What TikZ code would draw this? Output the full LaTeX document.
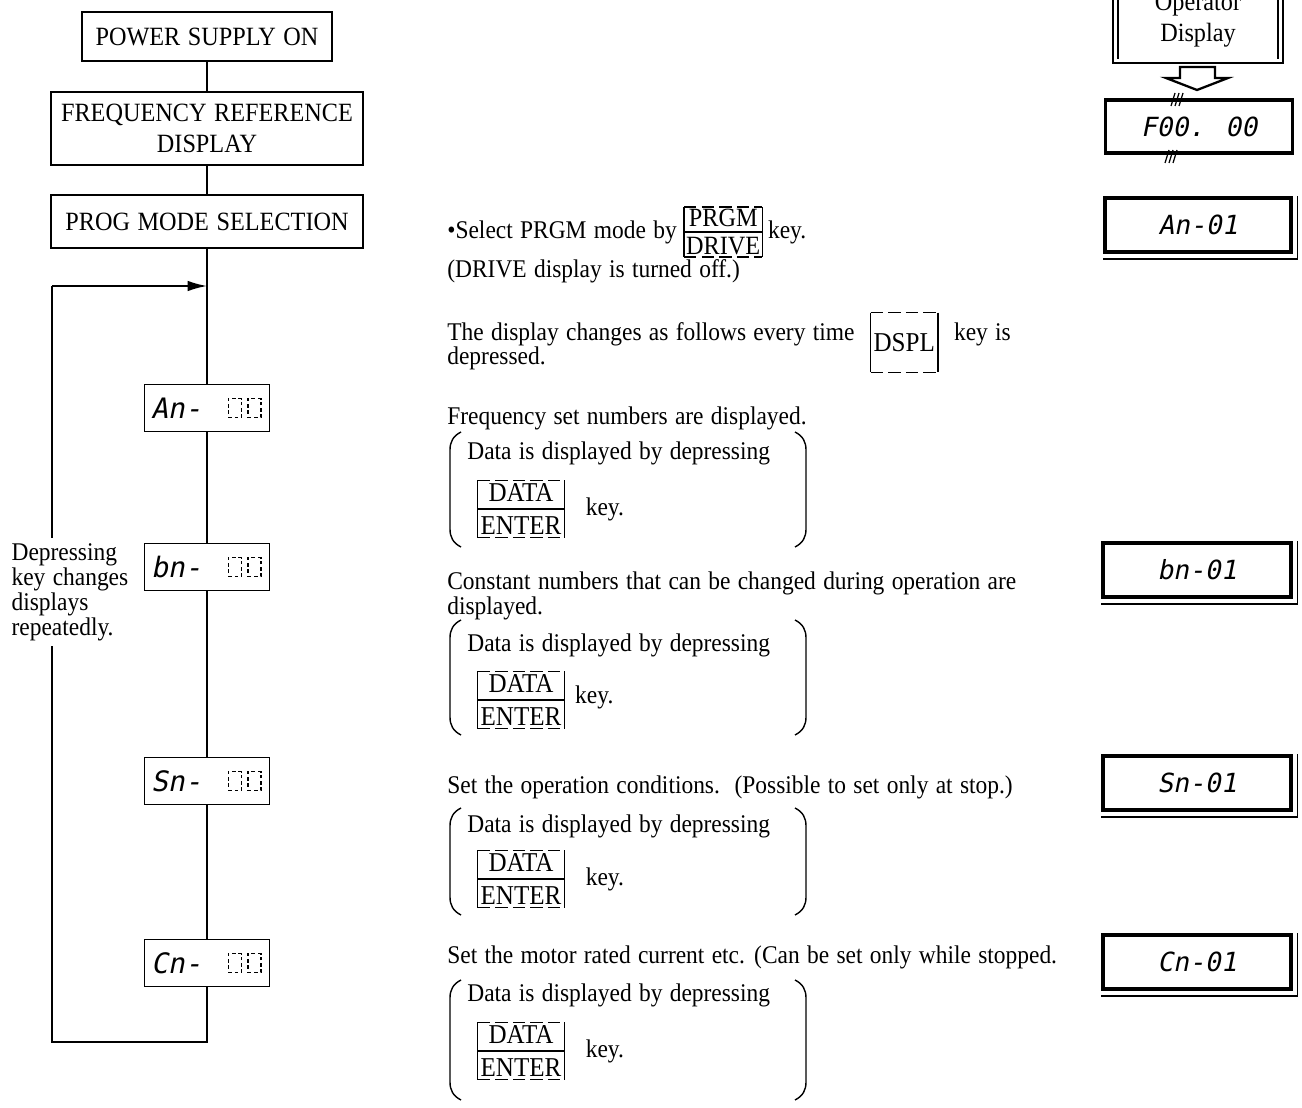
\documentclass[tikz,border=0pt]{standalone}
\usepackage{fontspec}
\setmainfont[FakeStretch=0.92, WordSpace=1.25]{Liberation Serif}
\newfontfamily\segfont[FakeSlant=0.2]{DejaVu Sans Mono}
\usetikzlibrary{arrows.meta,positioning}
\newcommand\keyframe[2][1]{%
  \draw[line width=0.8pt] (#2.north west) -- (#2.south west) (#2.north east) -- (#2.south east);
  \ifnum#1=1 \draw[line width=0.8pt] (#2.west) -- (#2.east);\fi
  \draw[line width=0.8pt, dash pattern=on 7pt off 3pt] (#2.north west) -- (#2.north east) (#2.south west) -- (#2.south east);}
\newcommand\parens[2]{%
  \draw[line width=0.8pt] (461,#1) .. controls (453,#1+4) and (450,#1+10) .. (450,#1+18) -- (450,#2-18) .. controls (450,#2-10) and (453,#2-4) .. (461,#2);
  \draw[line width=0.8pt] (795,#1) .. controls (803,#1+4) and (806,#1+10) .. (806,#1+18) -- (806,#2-18) .. controls (806,#2-10) and (803,#2-4) .. (795,#2);}
\newcommand\shadowlines[1]{%
  \draw[line width=1pt] ([xshift=0.1cm]#1.north east) -- ([xshift=0.1cm,yshift=-0.11cm]#1.south east) -- ([yshift=-0.11cm]#1.south west);}
\begin{document}
\begin{tikzpicture}[x=0.02cm,y=-0.02cm,
  flow/.style={draw, line width=0.9pt, align=center, font=\fontsize{15}{18}\selectfont, inner sep=0pt},
  ldisp/.style={draw, line width=1pt, minimum width=2.5cm, minimum height=0.94cm, inner sep=0pt},
  segl/.style={font=\segfont\fontsize{16}{16}\selectfont, inner sep=0pt, anchor=west},
  ph/.style={draw, line width=0.7pt, dash pattern=on 2pt off 1.6pt, minimum width=0.26cm, minimum height=0.38cm, inner sep=0pt},
  rdisp/.style={draw, line width=1.8pt, minimum width=3.74cm, minimum height=1.06cm, inner sep=0pt, font=\segfont\fontsize{15}{15}\selectfont},
  body/.style={font=\fontsize{14.5}{13}\selectfont, inner sep=0pt, anchor=west},
  keyt/.style={font=\fontsize{15.5}{19}\selectfont, inner sep=1.5pt, align=center},
  link/.style={line width=1pt}]
\clip (0,0) rectangle (1302,1108);
\fill[white] (0,0) rectangle (1302,1108);

% ---- left flow chart
\node[flow, minimum width=5cm, minimum height=0.98cm] (pso) at (207,36.5) {POWER SUPPLY ON};
\node[flow, minimum width=6.24cm, minimum height=1.46cm] (frd) at (207,128.5) {FREQUENCY REFERENCE\\DISPLAY};
\node[flow, minimum width=6.24cm, minimum height=1.06cm] (pms) at (207,221.5) {PROG MODE SELECTION};

\node[ldisp] (an) at (207,408) {};
\node[ldisp] (bn) at (207,567) {};
\node[ldisp] (sn) at (207,781) {};
\node[ldisp] (cn) at (207,963) {};
\foreach \d/\t in {an/An-, bn/bn-, sn/Sn-, cn/Cn-}{
  \node[segl] (\d t) at ([xshift=4pt]\d.west) {\t};
  \node[ph, anchor=east] (\d p2) at ([xshift=-5pt]\d.east) {};
  \node[ph, left=3pt of \d p2] (\d p1) {};
}

\draw[link] (pso) -- (frd);
\draw[link] (frd) -- (pms);
\draw[link] (pms) -- (an);
\draw[link] (an) -- (bn);
\draw[link] (bn) -- (sn);
\draw[link] (sn) -- (cn);
\coordinate (lp1) at (52,1042);
\coordinate (lp2) at (52,286);
\coordinate (ent) at (207,286);
\draw[link] (cn.south) |- (lp1) -- (lp2);
\draw[link, -{Latex[length=11pt,width=6pt]}] (lp2) -- (ent);
\node[anchor=west, align=left, fill=white, inner sep=3pt, font=\fontsize{14.5}{11.8}\selectfont] (lbl) at (6,592) {Depressing\\key changes\\displays\\repeatedly.};

% ---- middle texts
\node[body] (t1) at (447,232) {\textbullet Select PRGM mode by};
\node[keyt, right=4pt of t1, font=\fontsize{15}{16}\selectfont, inner sep=1pt] (kp) {PRGM\\DRIVE};
\keyframe{kp}
\node[body, right=3pt of kp] (t1k) {key.};
\node[body] (t2) at (447,271) {(DRIVE display is turned off.)};
\node[body] (t3) at (447,334) {The display changes as follows every time};
\node[keyt, anchor=west, minimum width=1.3cm, minimum height=1.18cm] (kds) at ([xshift=9pt,yshift=-0.17cm]t3.east) {DSPL};
\keyframe[0]{kds}
\node[body, right=9pt of kds.east |- t3.east, anchor=west] (t3k) {key is};
\node[body] (t3b) at (447,358) {depressed.};

% block 1
\node[body] (f1) at (447,418) {Frequency set numbers are displayed.};
\parens{432}{547}
\node[body] (d1) at (467,453) {Data is displayed by depressing};
\node[keyt] (k1) at (521,509) {DATA\\ENTER};
\keyframe{k1}
\node[body, right=12pt of k1] (k1k) {key.};

% block 2
\node[body, align=left] (f2) at (447,596) {Constant numbers that can be changed during operation are\\displayed.};
\parens{620}{735}
\node[body] (d2) at (467,645) {Data is displayed by depressing};
\node[keyt] (k2) at (521,700) {DATA\\ENTER};
\keyframe{k2}
\node[body, right=6pt of k2, yshift=0.05cm] (k2k) {key.};

% block 3
\node[body] (f3) at (447,787) {Set the operation conditions.\ \ (Possible to set only at stop.)};
\parens{808}{915}
\node[body] (d3) at (467,826) {Data is displayed by depressing};
\node[keyt] (k3) at (521,879) {DATA\\ENTER};
\keyframe{k3}
\node[body, right=12pt of k3] (k3k) {key.};

% block 4
\node[body] (f4) at (447,957) {Set the motor rated current etc. (Can be set only while stopped.};
\parens{980}{1100}
\node[body] (d4) at (467,995) {Data is displayed by depressing};
\node[keyt] (k4) at (521,1051) {DATA\\ENTER};
\keyframe{k4}
\node[body, right=12pt of k4] (k4k) {key.};

% ---- right column
\draw[line width=0.9pt] (1113,-10) -- (1113,63) -- (1283,63) -- (1283,-10);
\draw[line width=0.7pt] (1118,-10) -- (1118,59) (1278,-10) -- (1278,59);
\node[align=center, inner sep=0pt, font=\fontsize{15}{17.5}\selectfont] (opd) at (1198,20) {Operator\\Display};
\draw[line width=1.3pt, fill=white] (1180,67) -- (1215,67) -- (1215,78) -- (1228,78) -- (1197,90) -- (1166,78) -- (1180,78) -- cycle;

\node[rdisp] (f00) at (1199,126.5) {F00. 00};
\foreach \i in {0,4,8}{
  \draw[line width=0.7pt] (1171+\i,106) -- (1175+\i,93);
  \draw[line width=0.7pt] (1165+\i,163) -- (1169+\i,150);
}
\node[rdisp, minimum width=3.72cm, minimum height=1.08cm] (a01) at (1198,225) {An-01};
\node[rdisp, minimum width=3.76cm, minimum height=1.08cm] (b01) at (1197,570) {bn-01};
\node[rdisp, minimum width=3.76cm, minimum height=1.08cm] (s01) at (1197,783) {Sn-01};
\node[rdisp, minimum width=3.76cm, minimum height=1.08cm] (c01) at (1197,962) {Cn-01};
\shadowlines{a01}
\shadowlines{b01}
\shadowlines{s01}
\shadowlines{c01}
\end{tikzpicture}
\end{document}
